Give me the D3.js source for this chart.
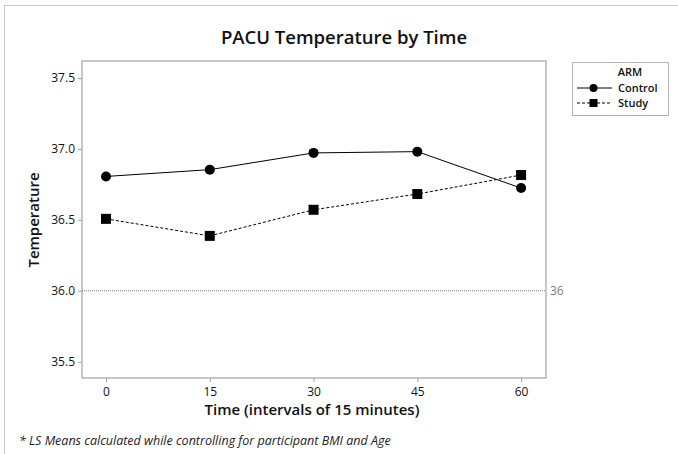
<!DOCTYPE html>
<html>
<head>
<meta charset="utf-8">
<script src="https://cdn.jsdelivr.net/npm/d3@7"></script>
<style>
  body { margin: 0; background: #fff; }
  svg { font-family: "Open Sans", "Noto Sans", sans-serif; }
</style>
</head>
<body>
<div id="chart"></div>
<script>
// times (minutes) and LS means per arm
var times = [0, 15, 30, 45, 60];
var controlTemp = [36.806, 36.854, 36.972, 36.981, 36.724];
var studyTemp = [36.507, 36.387, 36.571, 36.682, 36.816];
var yTicks = [35.5, 36.0, 36.5, 37.0, 37.5];
var refValue = 36;

var width = 678, height = 454;
var plot = { left: 82, top: 61, right: 546, bottom: 378 };

var svg = d3.select("#chart").append("svg")
  .attr("width", width)
  .attr("height", height);

// outer frame
svg.append("rect")
  .attr("x", 4.5).attr("y", 5.5)
  .attr("width", 720).attr("height", 500)
  .attr("fill", "none")
  .attr("stroke", "#c8c8c8");

var x = d3.scaleLinear().domain([-3.47, 63.6]).range([plot.left, plot.right]);
var y = d3.scaleLinear().domain([35.385, 37.62]).range([plot.bottom, plot.top]);

// title
svg.append("text")
  .attr("x", 344).attr("y", 44)
  .attr("text-anchor", "middle")
  .attr("font-size", 18.5)
  .attr("font-weight", 600)
  .attr("fill", "#111")
  .text("PACU Temperature by Time");

// axes
var xAxis = svg.append("g")
  .attr("transform", "translate(0," + plot.bottom + ")")
  .call(d3.axisBottom(x).tickValues(times).tickSize(4).tickPadding(5));
var yAxis = svg.append("g")
  .attr("transform", "translate(" + plot.left + ",0)")
  .call(d3.axisLeft(y).tickValues(yTicks).tickFormat(d3.format(".1f")).tickSize(4).tickPadding(3));

[xAxis, yAxis].forEach(function(a) {
  a.select(".domain").remove();
  a.selectAll(".tick line").attr("stroke", "#a0a0a0");
  a.selectAll(".tick text")
    .attr("font-size", 12)
    .attr("fill", "#111")
    .attr("font-family", "Open Sans, sans-serif");
});

// plot frame
svg.append("rect")
  .attr("x", plot.left).attr("y", plot.top)
  .attr("width", plot.right - plot.left)
  .attr("height", plot.bottom - plot.top)
  .attr("fill", "none")
  .attr("stroke", "#b4b4b4")
  .attr("stroke-width", 1.5);

// reference line
svg.append("line")
  .attr("x1", plot.left).attr("x2", plot.right)
  .attr("y1", y(refValue)).attr("y2", y(refValue))
  .attr("stroke", "#555")
  .attr("stroke-width", 0.8)
  .attr("stroke-dasharray", "1,1");
svg.append("text")
  .attr("x", plot.right + 4).attr("y", y(refValue))
  .attr("dy", "0.35em")
  .attr("font-size", 12)
  .attr("fill", "#808080")
  .text(refValue);

// axis titles
svg.append("text")
  .attr("x", 312).attr("y", 415)
  .attr("text-anchor", "middle")
  .attr("font-size", 15)
  .attr("font-weight", 600)
  .attr("fill", "#111")
  .text("Time (intervals of 15 minutes)");
svg.append("text")
  .attr("transform", "translate(39,220) rotate(-90)")
  .attr("text-anchor", "middle")
  .attr("font-size", 15)
  .attr("font-weight", 600)
  .attr("fill", "#111")
  .text("Temperature");

// footnote
svg.append("text")
  .attr("x", 19).attr("y", 445)
  .attr("font-size", 12.5)
  .attr("font-style", "italic")
  .attr("fill", "#222")
  .text("* LS Means calculated while controlling for participant BMI and Age");

// series
var series = [
  { name: "Control", values: controlTemp, dash: null, shape: "circle" },
  { name: "Study", values: studyTemp, dash: "3,2", shape: "square" }
];

var line = d3.line()
  .x(function(d) { return x(d.t); })
  .y(function(d) { return y(d.v); });

series.forEach(function(s) {
  var pts = times.map(function(t, i) { return { t: t, v: s.values[i] }; });
  svg.append("path")
    .datum(pts)
    .attr("d", line)
    .attr("fill", "none")
    .attr("stroke", "#000")
    .attr("stroke-width", 1)
    .attr("stroke-dasharray", s.dash);
  if (s.shape === "circle") {
    svg.selectAll(".pt-c").data(pts).enter().append("circle")
      .attr("class", "pt-c")
      .attr("cx", function(d) { return x(d.t); })
      .attr("cy", function(d) { return y(d.v); })
      .attr("r", 5)
      .attr("fill", "#000");
  } else {
    svg.selectAll(".pt-s").data(pts).enter().append("rect")
      .attr("class", "pt-s")
      .attr("x", function(d) { return x(d.t) - 5; })
      .attr("y", function(d) { return y(d.v) - 5; })
      .attr("width", 10).attr("height", 10)
      .attr("fill", "#000");
  }
});

// legend
var legend = svg.append("g").attr("transform", "translate(572,62)");
legend.append("rect")
  .attr("x", 0.5).attr("y", 0.5)
  .attr("width", 96).attr("height", 53)
  .attr("fill", "#fff")
  .attr("stroke", "#b4b4b4");
legend.append("text")
  .attr("x", 58).attr("y", 14)
  .attr("text-anchor", "middle")
  .attr("font-size", 11)
  .attr("font-weight", 600)
  .attr("fill", "#111")
  .text("ARM");

var items = legend.selectAll(".legend-item")
  .data(series)
  .enter().append("g")
  .attr("class", "legend-item")
  .attr("transform", function(d, i) { return "translate(0," + (26 + i * 15) + ")"; });
items.append("line")
  .attr("x1", 5).attr("x2", 40)
  .attr("stroke", "#000")
  .attr("stroke-dasharray", function(d) { return d.dash; });
items.each(function(d) {
  var g = d3.select(this);
  if (d.shape === "circle") {
    g.append("circle").attr("cx", 21.5).attr("cy", 0).attr("r", 4).attr("fill", "#000");
  } else {
    g.append("rect").attr("x", 17.5).attr("y", -4).attr("width", 8).attr("height", 8).attr("fill", "#000");
  }
});
items.append("text")
  .attr("x", 46).attr("y", 0)
  .attr("dy", "0.35em")
  .attr("font-size", 11)
  .attr("font-weight", 600)
  .attr("fill", "#111")
  .text(function(d) { return d.name; });
</script>
</body>
</html>
